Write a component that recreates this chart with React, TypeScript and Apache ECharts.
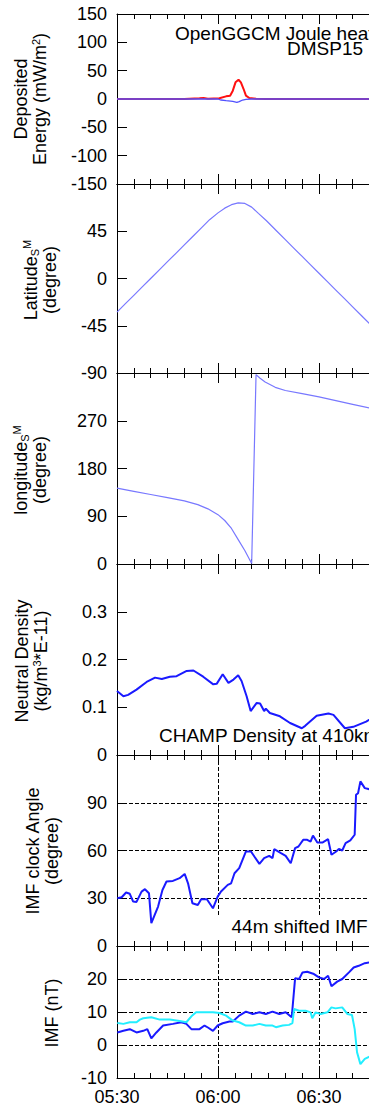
import React, { useEffect, useRef } from "react";
import * as echarts from "echarts";

// time in minutes after 05:30
const timeTicks = ["05:30", "06:00", "06:30"];

const heatOpenGGCM = [[0,0],[20,0],[24.5,1.2],[25.7,1.8],[27,0.6],[30.4,1.2],[32.4,4.7],[33.6,5.9],[34.4,14.7],[35.2,29.4],[36.1,34],[36.8,29.4],[37.6,17.6],[38.3,5.9],[39.3,1.8],[41.3,0.6],[44.2,0],[90,0]];
const heatDMSP = [[0,0],[30,0],[30.9,-1.8],[32.4,-2.9],[34.4,-4.1],[35.6,-5.9],[36.3,-4.7],[37.3,-1.8],[38.3,-0.6],[40,0],[90,0]];

const latitude = [[0,-32],[2.5,-24],[5,-16],[7.5,-8],[10,0],[12.5,8],[15,16],[17.5,24],[20,32],[22.5,40],[25,48],[27.5,56],[30,62.5],[32,67],[34,70.3],[36,72],[38,71.5],[40,68],[42,62],[44.4,55],[47.5,45],[50,37],[52.5,29],[55,21],[57.5,13],[60,5],[62.5,-3],[65,-11],[67.5,-19],[70,-27],[72.5,-35],[75,-43],[77.5,-51]];

const longitude = [[0,143],[5,137],[10,131],[15,125],[20,119],[24,112],[27,104],[30,93],[32,82],[34,67],[36,46],[38,25],[40,1],[41.3,357],[42.5,350],[44,343],[47,333],[50,327],[55,321],[60,315],[65,308],[70,301],[75,294],[80,288]];

const density = [[0,0.134],[1.9,0.123],[3.3,0.126],[5.8,0.137],[8.8,0.153],[11.3,0.162],[13.3,0.159],[15.7,0.164],[17.7,0.165],[20.7,0.176],[22.7,0.177],[25.6,0.164],[28.6,0.148],[29.6,0.149],[31.4,0.169],[33.1,0.151],[34.6,0.158],[36,0.167],[37,0.155],[38.5,0.123],[39.7,0.092],[41.5,0.109],[42.5,0.108],[43.7,0.092],[44.2,0.097],[45.4,0.088],[48.4,0.081],[51.4,0.067],[54.9,0.056],[55.9,0.061],[59.3,0.082],[62.8,0.087],[64.3,0.084],[67.7,0.056],[70.2,0.059],[74,0.07],[76,0.078]];

const clockAngle = [[0.1,30],[1.4,30.6],[2.7,33.6],[3.8,32.8],[4.8,27.9],[5.8,27.7],[7.3,34.2],[8.3,35.7],[9.5,33.1],[10.2,14.3],[11.2,19.5],[12.2,24.8],[13.5,35.2],[14.7,40.5],[16.6,40.9],[18.6,42.6],[20.1,45.3],[21.1,39.4],[22.4,26.9],[24,25.8],[25,29.4],[26.7,29.4],[28.5,23.7],[29.9,31],[30.9,34.2],[32.9,38.4],[33.9,39.4],[34.9,45.7],[36.3,48.9],[38.3,59.4],[39.8,59.4],[40.8,56.2],[42.3,51.6],[43.7,55.2],[45.2,56.6],[46.2,55.2],[46.7,60.8],[48.7,58.3],[50.1,56.6],[51.6,52],[52.9,61.5],[53.9,62.5],[55.3,66.7],[56.5,66.7],[57.5,65.6],[58.2,69.4],[59.5,65],[61,65],[62.7,67.1],[63.7,57.3],[65.1,59.4],[65.9,61],[66.9,60],[67.9,64.6],[69.3,66.3],[70.6,69.9],[71,95],[71.6,96],[72.3,103.4],[73.6,99.2],[76,98]];

const imfBlue = [[0.1,3.8],[1.9,4.3],[3.8,4.8],[5.8,3.8],[7.8,4.3],[9,4.8],[10.2,2],[11.7,3.8],[13.7,5.9],[16.6,6.4],[19.1,6.9],[20.6,6.4],[22.1,4.8],[24.5,4.8],[26,5.9],[27,5.3],[28.5,4.3],[29.9,5.9],[31.4,6.6],[33.4,7.1],[34.4,7.1],[36.3,8.9],[38.3,10.1],[40.3,9.4],[42.3,9.9],[44.2,9.4],[46.2,10.1],[48.2,9.4],[50.1,9.9],[51.9,8.4],[52.9,20.2],[54.1,20],[55.1,22],[56.5,22.2],[58.5,21.5],[60,20.5],[61.5,20],[62.7,21],[63.7,17.8],[65.4,19.2],[66.9,20],[68.9,22],[70.3,23.5],[71.8,24],[73.6,24.8],[76,25.2]];

const imfCyan = [[0.1,6.7],[1.9,6.4],[3.8,6.9],[5.8,6.9],[6.8,7.7],[7.8,8.1],[10.2,8.4],[12.7,7.7],[15.7,7.7],[18.6,7.3],[20.6,6.9],[22.1,8.7],[23.5,9.9],[26.5,9.9],[28.5,9.9],[30.4,9.7],[32.4,8.9],[34.4,7.4],[36.3,6.9],[38.3,5.9],[40.3,5.9],[42.3,6.4],[44.2,5.9],[46.2,5.9],[47.2,5.4],[49.2,5.9],[51.1,6.1],[52.1,6.6],[52.6,10.9],[54.1,10.4],[56,10.4],[57.5,9.9],[58,8.1],[59,9.9],[60.5,9.4],[62.5,9.9],[63.7,11.4],[64.9,11.1],[66.9,11.4],[68.4,9.4],[69.8,9.1],[70.6,4.8],[71.3,-2.2],[72.3,-5.8],[73.6,-4.2],[76,-3]];

const yRanges = [
  { min: -150, max: 150, interval: 50 },
  { min: -90, max: 90, interval: 45 },
  { min: 0, max: 360, interval: 90 },
  { min: 0, max: 0.4, interval: 0.1 },
  { min: 0, max: 120, interval: 30 },
  { min: -10, max: 30, interval: 10 },
];

const FONT = "Liberation Sans, Arial, sans-serif";

export default function App() {
  const ref = useRef<HTMLDivElement>(null);
  useEffect(() => {
    const chart = echarts.init(ref.current!, null, { renderer: "svg" });
    const panels = [
      { top: 14, height: 170 },
      { top: 184, height: 189 },
      { top: 373, height: 191 },
      { top: 564, height: 191 },
      { top: 755, height: 191 },
      { top: 946, height: 132 },
    ];
    const gridded = [false, false, false, false, true, true];
    const grid = panels.map((p) => ({ left: 117, width: 303, top: p.top, height: p.height }));
    const dash = { color: "#000", width: 1, type: [4, 2] as any };
    const xAxis: any[] = [];
    panels.forEach((_, i) => {
      ["bottom", "top"].forEach((pos) => {
        xAxis.push({
          type: "value",
          gridIndex: i,
          position: pos,
          min: 0,
          max: 90,
          interval: 30,
          axisLine: { show: true, onZero: false, lineStyle: { color: "#000", width: 1 } },
          axisTick: { show: true, inside: true, length: 10, lineStyle: { color: "#000" } },
          minorTick: { show: true, splitNumber: 6, length: 5, lineStyle: { color: "#000" } },
          splitLine: { show: gridded[i] && pos === "bottom", lineStyle: dash },
          axisLabel: {
            show: i === 5 && pos === "bottom",
            showMaxLabel: false,
            margin: 10,
            fontFamily: FONT,
            fontSize: 18,
            color: "#000",
            formatter: (v: number) => timeTicks[Math.round(v / 30)] || "",
          },
        });
      });
    });
    const yAxis = yRanges.map((r, i) => ({
      type: "value",
      gridIndex: i,
      min: r.min,
      max: r.max,
      interval: r.interval,
      axisLine: { show: true, onZero: false, lineStyle: { color: "#000", width: 1 } },
      axisTick: { show: true, inside: true, length: 10, lineStyle: { color: "#000" } },
      splitLine: { show: gridded[i], lineStyle: dash },
      axisLabel: {
        showMaxLabel: i === 0,
        showMinLabel: true,
        margin: 10,
        fontFamily: FONT,
        fontSize: 18,
        color: "#000",
      },
    }));
    const line = (data: number[][], xi: number, yi: number, color: string, width: number, z = 2) => ({
      type: "line",
      data,
      xAxisIndex: xi * 2,
      yAxisIndex: yi,
      showSymbol: false,
      symbol: "none",
      z,
      lineStyle: { color, width },
    });
    const series = [
      line(heatOpenGGCM, 0, 0, "#ff1010", 2),
      line(heatDMSP, 0, 0, "#5050ff", 1.3, 3),
      line(latitude, 1, 1, "#7878ff", 1.2),
      line(longitude, 2, 2, "#7878ff", 1.2),
      line(density, 3, 3, "#1a1aff", 2),
      line(clockAngle, 4, 4, "#1a1aff", 2),
      line(imfBlue, 5, 5, "#1a1aff", 2),
      line(imfCyan, 5, 5, "#22eeff", 2),
    ];
    const supSub = {
      sup: { fontSize: 11, fontFamily: FONT, verticalAlign: "top", lineHeight: 19 },
      sub: { fontSize: 11, fontFamily: FONT, verticalAlign: "bottom", lineHeight: 19 },
    };
    const name = (text: string, x: number, y: number) => ({
      type: "text",
      x,
      y,
      rotation: Math.PI / 2,
      z: 20,
      style: {
        text,
        fill: "#000",
        fontFamily: FONT,
        fontSize: 18,
        lineHeight: 19,
        textAlign: "center",
        textVerticalAlign: "middle",
        align: "center",
        verticalAlign: "middle",
        rich: supSub,
      },
    });
    const note = (text: string, x: number, y: number) => ({
      type: "text",
      x,
      y,
      z: 21,
      style: {
        text,
        fill: "#000",
        fontFamily: FONT,
        fontSize: 19,
        lineHeight: 14,
        textAlign: "left",
        textVerticalAlign: "middle",
        align: "left",
        verticalAlign: "middle",
      },
    });
    chart.setOption({
      animation: false,
      backgroundColor: "#fff",
      grid,
      xAxis,
      yAxis,
      series,
      graphic: [
        name("Deposited\nEnergy (mW/m{sup|2})", 30, 99),
        name("Latitude{sub|S}{sup|M}\n(degree)", 40, 280),
        name("longitude{sub|S}{sup|M}\n(degree)", 30, 470),
        name("Neutral Density\n(kg/m{sup|3}*E-11)", 31.5, 661),
        name("IMF clock Angle\n(degree)", 42, 851),
        name("IMF (nT)", 52, 1013),
        note("OpenGGCM Joule heating", 175, 33),
        note("DMSP15", 287, 48),
        note("CHAMP Density at 410km", 159, 735),
        {
          type: "rect",
          z: 19,
          shape: { x: 212, y: 917, width: 260, height: 23 },
          style: { fill: "#fff" },
        },
        note("44m shifted IMF", 231.5, 926.5),
      ],
    });
    return () => chart.dispose();
  }, []);
  return (
    <div
      style={{ position: "absolute", left: 0, top: 0, width: 369, height: 1107, overflow: "hidden", background: "#fff" }}
    >
      <div ref={ref} style={{ width: 450, height: 1107 }} />
    </div>
  );
}
